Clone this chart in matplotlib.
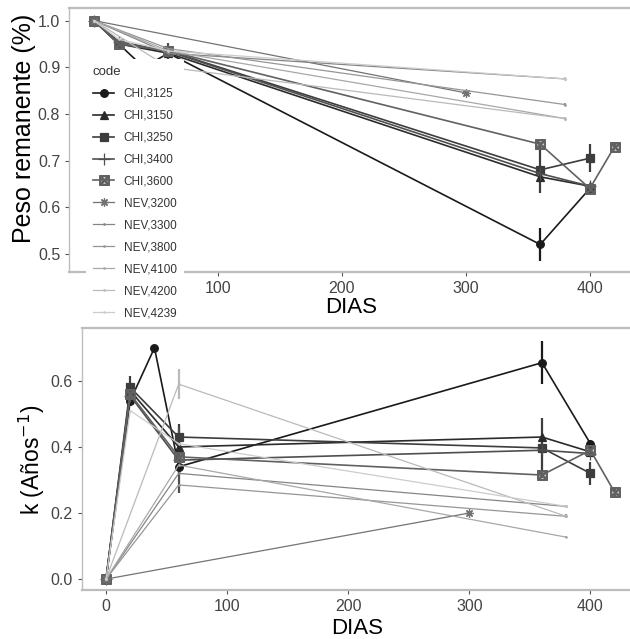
import matplotlib
matplotlib.use('Agg')
import numpy as np
from matplotlib import pyplot as plt

plt.rcParams['font.family'] = ['Liberation Sans', 'DejaVu Sans']

# series codes
codes = ['CHI,3125', 'CHI,3150', 'CHI,3250', 'CHI,3400', 'CHI,3600',
         'NEV,3200', 'NEV,3300', 'NEV,3800', 'NEV,4100', 'NEV,4200', 'NEV,4239']

# sampling days of each series
dias = [[0, 20, 40, 60, 360, 400],
        [0, 20, 60, 360, 400],
        [0, 20, 60, 360, 400],
        [0, 20, 60, 360, 400],
        [0, 20, 60, 360, 400, 420],
        [0, 300],
        [0, 60, 380],
        [0, 60, 380],
        [0, 60, 380],
        [0, 60, 380],
        [0, 20, 60, 380]]

# remaining weight (fraction)
peso = [[1.0, 0.95, 0.90, 0.93, 0.52, 0.64],
        [1.0, 0.95, 0.93, 0.665, 0.645],
        [1.0, 0.95, 0.935, 0.68, 0.705],
        [1.0, 0.955, 0.934, 0.672, 0.645],
        [1.0, 0.95, 0.935, 0.735, 0.64, 0.73],
        [1.0, 0.845],
        [1.0, 0.93, 0.875],
        [1.0, 0.94, 0.82],
        [1.0, 0.935, 0.79],
        [1.0, 0.90, 0.79],
        [1.0, 0.96, 0.935, 0.875]]
peso_err = [[0, 0, 0, 0, 0.035, 0.01],
            [0, 0.005, 0.005, 0, 0],
            [0, 0.005, 0.01, 0.05, 0.03],
            [0, 0.005, 0.018, 0, 0],
            [0, 0, 0, 0.005, 0.005, 0.005],
            [0, 0.006],
            [0, 0, 0.003],
            [0, 0, 0.004],
            [0, 0, 0.003],
            [0, 0, 0.003],
            [0, 0, 0, 0.003]]

# decay constant k (1/year)
k = [[0, 0.54, 0.70, 0.34, 0.655, 0.41],
     [0, 0.57, 0.40, 0.43, 0.385],
     [0, 0.58, 0.43, 0.397, 0.32],
     [0, 0.555, 0.36, 0.39, 0.38],
     [0, 0.56, 0.37, 0.315, 0.39, 0.263],
     [0, 0.20],
     [0, 0.32, 0.22],
     [0, 0.285, 0.19],
     [0, 0.345, 0.127],
     [0, 0.59, 0.19],
     [0, 0.51, 0.41, 0.22]]
k_err = [[0, 0, 0, 0.02, 0.065, 0.01],
         [0, 0.02, 0.02, 0, 0],
         [0, 0.035, 0.04, 0.09, 0.035],
         [0, 0.02, 0.10, 0, 0],
         [0, 0, 0, 0.01, 0.01, 0.01],
         [0, 0.006],
         [0, 0, 0.005],
         [0, 0, 0.006],
         [0, 0, 0.004],
         [0, 0.045, 0.004],
         [0, 0, 0, 0.004]]

markers = ['o', '^', 's', '+', '$\\boxtimes$', (8, 2, 0), '.', '.', '.', '.', '.']
msizes = [5.5, 6, 5.5, 8, 7, 6, 2, 2, 2, 2, 2]
greys = np.linspace(0.1, 0.8, len(codes))

fig = plt.figure(figsize=(6.3, 6.39), dpi=100)
ax1 = fig.add_axes([69.2 / 630, 1 - 272 / 639, 564 / 630, 264 / 639])
ax2 = fig.add_axes([81.8 / 630, 1 - 590 / 639, 551 / 630, 262 / 639])

handles = []
for i in range(len(codes)):
    c = str(greys[i])
    lw = 1.2 if i < 5 else 0.9
    h = ax1.errorbar(dias[i], peso[i], yerr=peso_err[i], color=c, marker=markers[i],
                     ms=msizes[i], lw=lw, elinewidth=1.6, capsize=0, mew=0.9)
    ax2.errorbar(dias[i], k[i], yerr=k_err[i], color=c, marker=markers[i],
                 ms=msizes[i], lw=lw, elinewidth=1.6, capsize=0, mew=0.9)
    handles.append(h[0])

for ax in (ax1, ax2):
    ax.set_xlim(-20, 435)
    ax.set_xticks([0, 100, 200, 300, 400])
    for s in ax.spines.values():
        s.set_color('#bdbdbd')
        s.set_linewidth(1.6)
    ax.spines['left'].set_linewidth(1.0)
    ax.tick_params(colors='#555555', labelsize=11.5, length=3, width=0.8)
    ax.tick_params(axis='x', labelcolor='#444444')
    ax.tick_params(axis='y', labelcolor='#444444')

ax1.set_xlabel('DIAS', fontsize=16, labelpad=1)
ax2.set_xlabel('DIAS', fontsize=16, labelpad=3)

ax1.set_ylim(0.461, 1.027)
ax1.set_yticks([0.5, 0.6, 0.7, 0.8, 0.9, 1.0])
ax1.set_ylabel('Peso remanente (%)', fontsize=18)
ax1.yaxis.set_label_coords(-0.058, 0.545)

ax2.set_ylim(-0.033, 0.76)
ax2.set_yticks([0.0, 0.2, 0.4, 0.6])
ax2.set_ylabel('k (Años$^{-1}$)', fontsize=16.5)
ax2.yaxis.set_label_coords(-0.064, 0.495)

leg = fig.legend(handles, codes, title='code', loc='upper left',
                 bbox_to_anchor=(80 / 630, 1 - 53 / 639), frameon=True,
                 facecolor='white', edgecolor='none', framealpha=1,
                 fontsize=8.5, title_fontsize=9.5, handlelength=1.8,
                 labelspacing=0.84, borderpad=0.6, alignment='left')
for t in leg.get_texts():
    t.set_color('#333333')
leg.get_title().set_color('#333333')

fig.savefig('out.png', dpi=100)
